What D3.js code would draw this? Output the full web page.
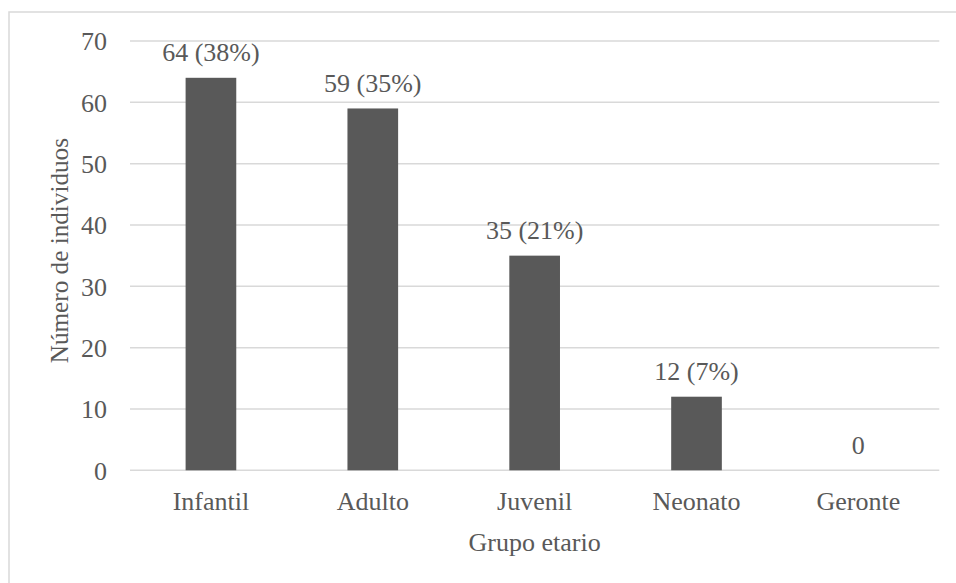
<!DOCTYPE html>
<html>
<head>
<meta charset="utf-8">
<script src="https://cdn.jsdelivr.net/npm/d3@7"></script>
</head>
<body style="margin:0;padding:0;background:#ffffff">
<svg id="chart" width="956" height="583" style="display:block"></svg>
<script>
// Individuals per age group
const categories = ["Infantil", "Adulto", "Juvenil", "Neonato", "Geronte"];
const values = [64, 59, 35, 12, 0];
const labels = ["64 (38%)", "59 (35%)", "35 (21%)", "12 (7%)", "0"];
const yTicks = [0, 10, 20, 30, 40, 50, 60, 70];
const xTitle = "Grupo etario";
const yTitle = "Número de individuos";

const W = 956, H = 583;
const plot = { left: 130, right: 939.3, top: 41, bottom: 470.3 };
const FONT = "Liberation Serif";
const fontSize = 26;
const textColor = "#595959";

const svg = d3.select("#chart")
  .attr("font-family", FONT);

// Chart frame (continues past the right and bottom edges)
svg.append("rect")
  .attr("x", 9).attr("y", 12)
  .attr("width", W + 20).attr("height", H + 20)
  .attr("fill", "#ffffff")
  .attr("stroke", "#d9d9d9").attr("stroke-width", 1.5);

const x = d3.scaleBand()
  .domain(categories)
  .range([plot.left, plot.right])
  .paddingInner(0.687).paddingOuter(0.687 / 2);

const y = d3.scaleLinear()
  .domain([0, 70])
  .range([plot.bottom, plot.top]);

// Horizontal gridlines
svg.append("g")
  .selectAll("line")
  .data(yTicks)
  .join("line")
  .attr("x1", plot.left).attr("x2", plot.right)
  .attr("y1", d => y(d)).attr("y2", d => y(d))
  .attr("stroke", "#d9d9d9").attr("stroke-width", 1.5);

// Y axis tick labels
const yAxis = d3.axisLeft(y).tickValues(yTicks).tickSize(0).tickPadding(23);
const gy = svg.append("g")
  .attr("transform", `translate(${plot.left},0)`)
  .call(yAxis)
  .attr("font-family", FONT)
  .attr("font-size", fontSize);
gy.select(".domain").remove();
gy.selectAll("text")
  .attr("font-family", FONT)
  .attr("font-size", fontSize)
  .attr("fill", textColor)
  .attr("dy", "0.34em");

// Bars
svg.append("g")
  .selectAll("rect")
  .data(categories)
  .join("rect")
  .attr("x", d => x(d))
  .attr("width", x.bandwidth())
  .attr("y", (d, i) => y(values[i]))
  .attr("height", (d, i) => y(0) - y(values[i]))
  .attr("fill", "#595959");

// Value labels above bars
svg.append("g")
  .selectAll("text")
  .data(categories)
  .join("text")
  .attr("x", d => x(d) + x.bandwidth() / 2)
  .attr("y", (d, i) => y(values[i]) - 16.5)
  .attr("text-anchor", "middle")
  .attr("font-family", FONT)
  .attr("font-size", fontSize)
  .attr("fill", textColor)
  .text((d, i) => labels[i]);

// X axis category labels
const xAxis = d3.axisBottom(x).tickSize(0).tickPadding(0);
const gx = svg.append("g")
  .attr("transform", `translate(0,${plot.bottom})`)
  .call(xAxis)
  .attr("font-family", FONT)
  .attr("font-size", fontSize);
gx.select(".domain").remove();
gx.selectAll("text")
  .attr("font-family", FONT)
  .attr("font-size", fontSize)
  .attr("fill", textColor)
  .attr("dy", null)
  .attr("y", 40);

// Axis titles
svg.append("text")
  .attr("x", (plot.left + plot.right) / 2)
  .attr("y", 550.5)
  .attr("text-anchor", "middle")
  .attr("font-family", FONT)
  .attr("font-size", fontSize)
  .attr("fill", textColor)
  .text(xTitle);

svg.append("text")
  .attr("transform", `translate(67.5,${(plot.top + plot.bottom) / 2 - 5}) rotate(-90)`)
  .attr("text-anchor", "middle")
  .attr("font-family", FONT)
  .attr("font-size", 25.2)
  .attr("fill", textColor)
  .text(yTitle);
</script>
</body>
</html>
